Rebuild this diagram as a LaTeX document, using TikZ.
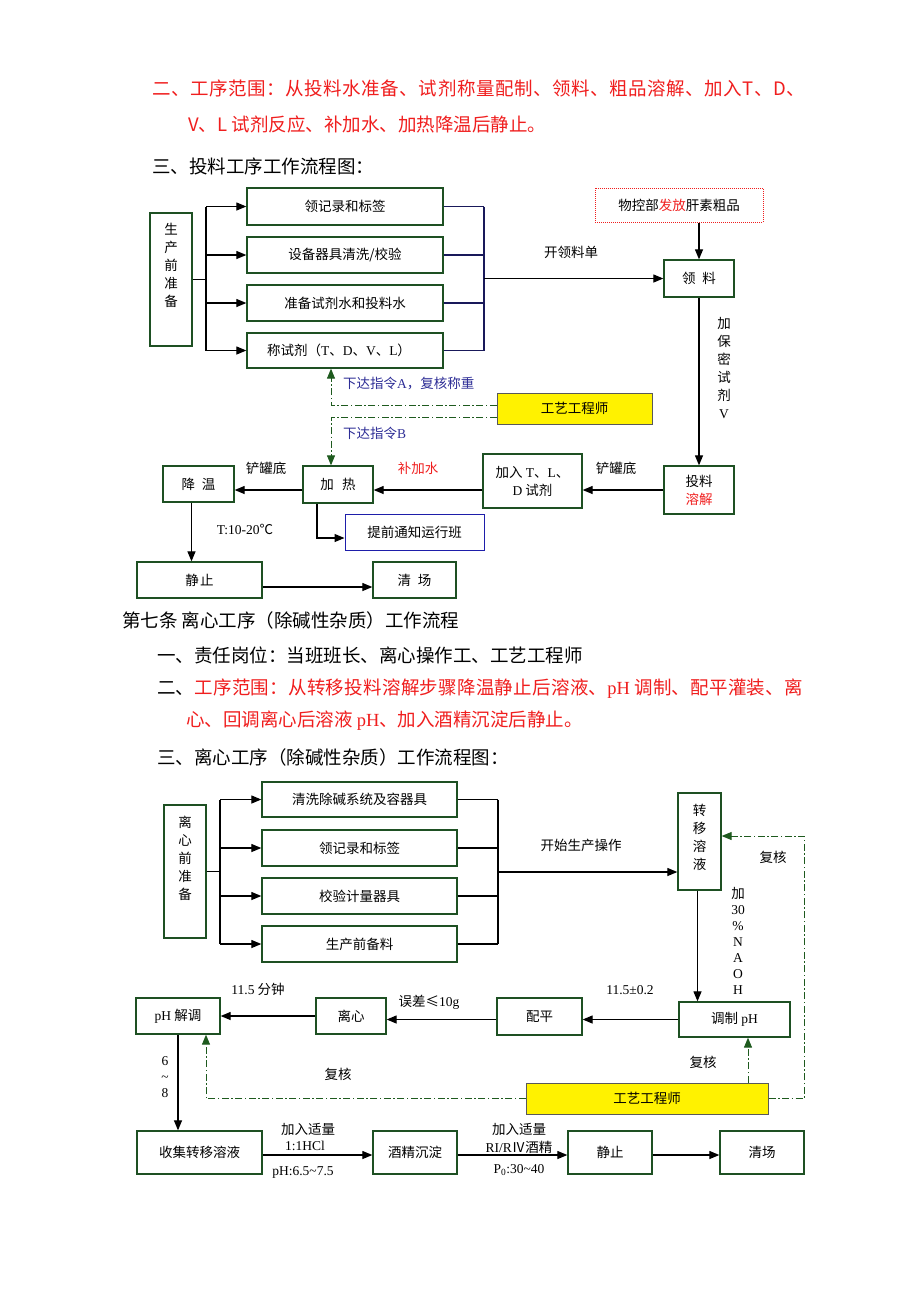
\documentclass[tikz,border=0pt]{standalone}
\usepackage{fontspec}
\setmainfont{Noto Sans CJK SC}
\newfontfamily\tms{Liberation Serif}
\newfontfamily\spA[LetterSpace=3]{Noto Sans CJK SC}
\newfontfamily\spB[LetterSpace=1.5]{Noto Sans CJK SC}
\usetikzlibrary{arrows.meta,calc}
\definecolor{bgreen}{RGB}{30,80,35}
\definecolor{dgreen}{RGB}{30,90,30}
\definecolor{rred}{RGB}{240,30,30}
\definecolor{lblue}{RGB}{45,45,150}
\definecolor{bblue}{RGB}{30,30,170}
\definecolor{navy}{RGB}{25,25,90}
\newcommand\lt[1]{{\tms #1}}
\newcommand\fs{\fontsize{13.5}{18}\selectfont}
\newcommand\bigfs{\fontsize{18.5}{22}\selectfont}
\begin{document}
\begin{tikzpicture}[x=1pt,y=-1pt,
 gbox/.style={draw=bgreen,line width=1.3pt,inner sep=0pt,font=\fs,align=center},
 sz/.style 2 args={minimum width=#1pt,minimum height=#2pt},
 arr/.style={draw=black,line width=1.2pt,-{Triangle[length=10pt,width=8pt]}},
 ln/.style={draw=black,line width=1.2pt},
 nln/.style={draw=navy,line width=1.2pt},
 dd/.style={draw=dgreen,line width=1pt,dash pattern=on 7pt off 2.5pt on 1.5pt off 2.5pt},
 ddarr/.style={dd,-{Triangle[length=10pt,width=8pt]}},
 lbl/.style={font=\fs,inner sep=0pt},
 para/.style={font=\bigfs,anchor=west,inner sep=0pt},
 ybox/.style={draw=black!65,fill=yellow,line width=1pt,inner sep=0pt,font=\fs}
]
\fill[white] (0,0) rectangle (920,1302);
\useasboundingbox (0,0) rectangle (920,1302);

% ---------- section 1 text
\node[para,text=rred,font=\spA\bigfs] (t1) at (152,88) {二、工序范围：从投料水准备、试剂称量配制、领料、粗品溶解、加入T、D、};
\node[para,text=rred] (t2) at (188,124) {V、L 试剂反应、补加水、加热降温后静止。};
\node[para] (t3) at (152,166) {三、投料工序工作流程图：};

% ---------- flowchart 1
\node[gbox,sz={42}{133},text depth=30pt] (prep) at (171,279.5) {生\\产\\前\\准\\备};
\node[gbox,sz={196}{37}] (b1) at (345,206.5) {领记录和标签};
\node[gbox,sz={196}{36}] (b2) at (345,255) {设备器具清洗/校验};
\node[gbox,sz={196}{36}] (b3) at (345,303) {准备试剂水和投料水};
\node[gbox,sz={196}{35}] (b4) at (345,350.5) {称试剂（\lt{T}、\lt{D}、\lt{V}、\lt{L}）\hspace{12pt}};
\coordinate (busL) at (206,0);
\coordinate (busR) at (484,0);
\draw[ln] (prep.east) -- (prep.east -| busL);
\draw[ln] (b1.west -| busL) -- (b4.west -| busL);
\foreach \b in {b1,b2,b3,b4} {\draw[arr] (\b.west -| busL) -- (\b.west);}
\foreach \b in {b1,b2,b3,b4} {\draw[nln] (\b.east) -- (\b.east -| busR);}
\draw[nln] (b1.east -| busR) -- (b4.east -| busR);

\node[gbox,sz={70}{37}] (ll) at (699,278.5) {领\hspace{0.5em}料};
\draw[arr] (ll.west -| busR) -- (ll.west);
\node[lbl] (kl) at (571,252) {开领料单};
\node[draw=rred,densely dotted,line width=1pt,sz={168}{34},inner sep=0pt,font=\fs] (wk) at (679,205) {物控部\textcolor{rred}{发放}肝素粗品};
\draw[arr] (wk.south -| ll.north) -- (ll.north);
\node[gbox,sz={70}{48}] (tl) at (699,490) {投料\\\textcolor{rred}{溶解}};
\draw[arr] (ll.south) -- (tl.north);
\node[lbl,align=center] (bm) at (724,368) {加\\保\\密\\试\\剂\\\lt{V}};
\node[gbox,sz={99}{54}] (ad) at (532.5,481) {加入 \lt{T}、\lt{L}、\\\lt{D} 试剂};
\draw[arr] (tl.west) -- (tl.west -| ad.east);
\node[lbl] (cg1) at (616,468) {铲罐底};
\node[gbox,sz={70}{37}] (jr) at (338,484.5) {加\hspace{0.6em}热};
\draw[arr] (ad.west |- tl.west) -- (jr.east |- tl.west);
\node[lbl,text=rred] (bjs) at (418,468) {补加水};
\node[gbox,sz={71}{36}] (jw) at (198.5,484) {降\hspace{0.5em}温};
\draw[arr] (jr.west |- tl.west) -- (jw.east |- tl.west);
\node[lbl] (cg2) at (266,468) {铲罐底};
\node[gbox,sz={125}{36}] (jz) at (199.5,580) {静\hspace{0.1em}止};
\draw[arr] ([xshift=-7pt]jw.south) -- ([xshift=-7pt]jw.south |- jz.north);
\node[lbl] (tt) at (245,529) {\lt{T:10-20}℃};
\node[gbox,sz={83}{36}] (qc) at (414.5,580) {清\hspace{0.5em}场};
\draw[arr] ([yshift=-7pt]jz.east) -- ([yshift=-7pt]qc.west);
\node[draw=bblue,line width=1pt,sz={139}{36},inner sep=0pt,font=\fs] (tq) at (414.5,532) {提前通知运行班};
\draw[arr] ([xshift=-21pt]jr.south) |- ([yshift=-6pt]tq.west);
\node[ybox,sz={155}{31}] (gy1) at (574.5,408.5) {工艺工程师};
\coordinate (xa) at (331,0);
\draw[ddarr] ([yshift=3.5pt]gy1.west) -| (b4.south -| xa);
\draw[ddarr] ([yshift=-8.5pt]gy1.west) -| (jr.north -| xa);
\node[lbl,text=lblue,anchor=west] (la) at (343,384) {下达指令\lt{A}，复核称重};
\node[lbl,text=lblue,anchor=west] (lb) at (343,433) {下达指令\lt{B}};

% ---------- section 2 text
\node[para] (s1) at (122,620) {第七条 离心工序（除碱性杂质）工作流程};
\node[para] (s2) at (157,655) {一、责任岗位：当班班长、离心操作工、工艺工程师};
\node[para,font=\spB\bigfs] (s3) at (157,689) {二、\textcolor{rred}{工序范围：从转移投料溶解步骤降温静止后溶液、\lt{pH} 调制、配平灌装、离}};
\node[para,text=rred] (s4) at (186,721) {心、回调离心后溶液 \lt{pH}、加入酒精沉淀后静止。};
\node[para] (s5) at (157,757) {三、离心工序（除碱性杂质）工作流程图：};

% ---------- flowchart 2
\node[gbox,sz={42}{133},text depth=28pt] (p2) at (185,871.5) {离\\心\\前\\准\\备};
\node[gbox,sz={195}{35}] (c1) at (359.5,799.5) {清洗除碱系统及容器具};
\node[gbox,sz={195}{36}] (c2) at (359.5,848) {领记录和标签};
\node[gbox,sz={195}{36}] (c3) at (359.5,896) {校验计量器具};
\node[gbox,sz={195}{36}] (c4) at (359.5,944) {生产前备料};
\coordinate (busL2) at (220,0);
\coordinate (busR2) at (498,0);
\draw[ln] (p2.east) -- (p2.east -| busL2);
\draw[ln] (c1.west -| busL2) -- (c4.west -| busL2);
\foreach \b in {c1,c2,c3,c4} {\draw[arr] (\b.west -| busL2) -- (\b.west);}
\foreach \b in {c1,c2,c3,c4} {\draw[ln] (\b.east) -- (\b.east -| busR2);}
\draw[ln] (c1.east -| busR2) -- (c4.east -| busR2);

\node[gbox,sz={43}{97},text depth=10pt] (zy) at (699.5,841.5) {转\\移\\溶\\液};
\coordinate (m2) at (498,872);
\draw[arr] (m2) -- (m2 -| zy.west);
\node[lbl] (ks) at (581,845) {开始生产操作};
\node[gbox,sz={111}{35}] (tz) at (734.5,1019.5) {调制 \lt{pH}};
\draw[arr] ([xshift=-2pt]zy.south) -- ([xshift=-2pt]zy.south |- tz.north);
\node[lbl,align=center,font=\fontsize{13.5}{16}\selectfont] (naoh) at (738,941) {加\\\lt{30}\\\lt{\%}\\\lt{N}\\\lt{A}\\\lt{O}\\\lt{H}};
\node[gbox,sz={85}{37}] (pp) at (539.5,1016.5) {配平};
\draw[arr] (tz.west) -- (tz.west -| pp.east);
\node[lbl] (l115) at (630,990) {\lt{11.5±0.2}};
\node[gbox,sz={70}{36}] (lx) at (351,1016) {离心};
\draw[arr] (pp.west |- tz.west) -- (lx.east |- tz.west);
\node[lbl] (wc) at (429,1002) {误差≤\lt{10g}};
\node[gbox,sz={84}{36}] (ph) at (178,1016) {\lt{pH} 解调};
\draw[arr] (lx.west) -- (lx.west -| ph.east);
\node[lbl] (fz) at (258,989) {\lt{11.5} 分钟};
\node[gbox,sz={125}{43}] (sj) at (199.5,1152.5) {收集转移溶液};
\draw[arr] (ph.south) -- (ph.south |- sj.north);
\node[lbl,align=center,font=\tms\fontsize{13.5}{16}\selectfont] (r68) at (165,1077) {6\\\textasciitilde\\8};
\node[gbox,sz={84}{43}] (jj) at (415,1152.5) {酒精沉淀};
\node[gbox,sz={84}{43}] (jz2) at (610,1152.5) {静止};
\node[gbox,sz={84}{43}] (qc2) at (762,1152.5) {清场};
\draw[arr] ([yshift=-2.5pt]sj.east) -- ([yshift=-2.5pt]jj.west);
\draw[arr] ([yshift=-2.5pt]jj.east) -- ([yshift=-2.5pt]jz2.west);
\draw[arr] ([yshift=-2.5pt]jz2.east) -- ([yshift=-2.5pt]qc2.west);
\node[lbl] (a1) at (308,1129) {加入适量};
\node[lbl] (a2) at (305,1146) {\lt{1:1HCl}};
\node[lbl] (a3) at (303,1172) {\lt{pH:6.5\textasciitilde7.5}};
\node[lbl] (b1l) at (519,1129) {加入适量};
\node[lbl] (b2l) at (519,1147) {\lt{RI/R}Ⅳ酒精};
\node[lbl] (b3l) at (519,1170) {\lt{P\textsubscript{0}:30\textasciitilde40}};

\node[ybox,sz={242}{31}] (gy2) at (647,1098.5) {工艺工程师};
\coordinate (xc) at (206,0);
\coordinate (xd) at (748,0);
\coordinate (cr) at (804,836);
\draw[ddarr] (gy2.west) -| (ph.south -| xc);
\draw[ddarr] (gy2.north -| xd) -- (tz.south -| xd);
\draw[ddarr] (gy2.east) -| (cr) -- (cr -| zy.east);
\node[lbl] (fh1) at (338,1074) {复核};
\node[lbl] (fh2) at (703,1062) {复核};
\node[lbl] (fh3) at (773,857) {复核};
\end{tikzpicture}
\end{document}
